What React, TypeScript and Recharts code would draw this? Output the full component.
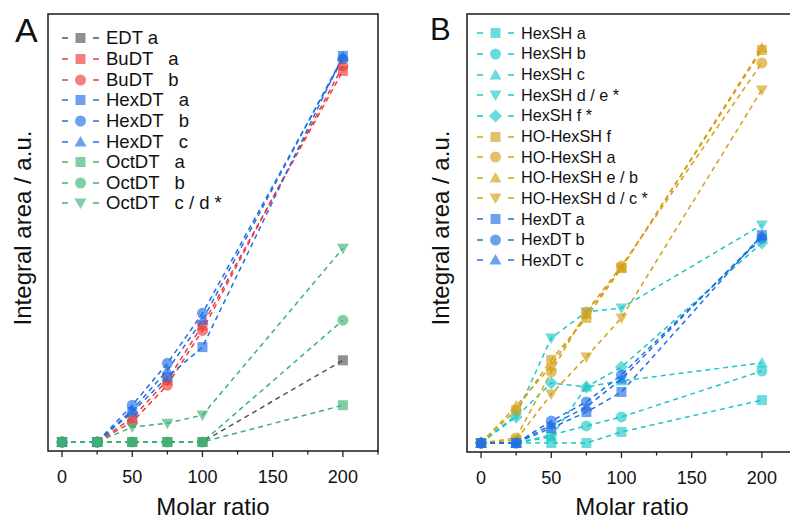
import React from "react";
import { LineChart, Line, XAxis, YAxis, ReferenceArea, Legend } from "recharts";

const FONT = '"Liberation Sans", Arial, sans-serif';

// x categories (molar ratio)
const molarRatio = [0, 25, 50, 75, 100, 200];
const xTicks = [0, 25, 50, 75, 100, 125, 150, 175, 200, 225];

// Panel A series
const edtA = [0, 0, 0, 0, 0, 27.3];
const budtA = [0, 0, 8, 20.7, 39, 124];
const budtB = [0, 0, 6.7, 19, 37.3, 125.7];
const hexdtA = [0, 0, 10, 21.7, 31.7, 129];
const hexdtB = [0, 0, 12.3, 26.3, 43, 128];
const hexdtC = [0, 0, 10.7, 24, 40.7, 128.7];
const octdtA = [0, 0, 0, 0, 0, 12.3];
const octdtB = [0, 0, 0, 0, 0, 40.7];
const octdtCD = [0, 0, 5, 6.3, 9, 64.7];

// Panel B series
const hexshA = [0, 0, 0, 0, 3.7, 14.3];
const hexshB = [0, 0, 2.7, 5.7, 8.7, 24];
const hexshC = [0, 0, 2, 18.7, 20.7, 26.7];
const hexshDE = [0, 9.3, 35, 43.7, 45, 72.7];
const hexshF = [0, 8.7, 20, 18.7, 25.3, 66.7];
const hoHexshF = [0, 11, 27.7, 41.7, 58.3, 131];
const hoHexshA = [0, 1.7, 23.7, 43.7, 59, 126.7];
const hoHexshEB = [0, 12.3, 25.7, 43, 58.3, 131.7];
const hoHexshDC = [0, 1, 16.3, 28.7, 41.7, 117.7];
const bHexdtA = [0, 0, 5, 10.3, 17, 69.3];
const bHexdtB = [0, 0, 7.3, 13.7, 22.7, 68.3];
const bHexdtC = [0, 0, 6, 12, 21.3, 69];

const GRAY = "#555555";
const RED = "#ee3b3b";
const BLUE = "#1f6fe5";
const GREEN = "#3cb371";
const CYAN = "#1cc7c7";
const GOLD = "#d4a017";

type Shape = "square" | "circle" | "triangle" | "triangleDown" | "diamond";
type Series = { key: string; name: string; color: string; shape: Shape; values: number[] };

const seriesA: Series[] = [
  { key: "edtA", name: "EDT a", color: GRAY, shape: "square", values: edtA },
  { key: "budtA", name: "BuDT   a", color: RED, shape: "square", values: budtA },
  { key: "budtB", name: "BuDT   b", color: RED, shape: "circle", values: budtB },
  { key: "hexdtA", name: "HexDT   a", color: BLUE, shape: "square", values: hexdtA },
  { key: "hexdtB", name: "HexDT   b", color: BLUE, shape: "circle", values: hexdtB },
  { key: "hexdtC", name: "HexDT   c", color: BLUE, shape: "triangle", values: hexdtC },
  { key: "octdtA", name: "OctDT   a", color: GREEN, shape: "square", values: octdtA },
  { key: "octdtB", name: "OctDT   b", color: GREEN, shape: "circle", values: octdtB },
  { key: "octdtCD", name: "OctDT   c / d *", color: GREEN, shape: "triangleDown", values: octdtCD },
];

const seriesB: Series[] = [
  { key: "hexshA", name: "HexSH a", color: CYAN, shape: "square", values: hexshA },
  { key: "hexshB", name: "HexSH b", color: CYAN, shape: "circle", values: hexshB },
  { key: "hexshC", name: "HexSH c", color: CYAN, shape: "triangle", values: hexshC },
  { key: "hexshDE", name: "HexSH d / e *", color: CYAN, shape: "triangleDown", values: hexshDE },
  { key: "hexshF", name: "HexSH f *", color: CYAN, shape: "diamond", values: hexshF },
  { key: "hoHexshF", name: "HO-HexSH f", color: GOLD, shape: "square", values: hoHexshF },
  { key: "hoHexshA", name: "HO-HexSH a", color: GOLD, shape: "circle", values: hoHexshA },
  { key: "hoHexshEB", name: "HO-HexSH e / b", color: GOLD, shape: "triangle", values: hoHexshEB },
  { key: "hoHexshDC", name: "HO-HexSH d / c *", color: GOLD, shape: "triangleDown", values: hoHexshDC },
  { key: "bHexdtA", name: "HexDT a", color: BLUE, shape: "square", values: bHexdtA },
  { key: "bHexdtB", name: "HexDT b", color: BLUE, shape: "circle", values: bHexdtB },
  { key: "bHexdtC", name: "HexDT c", color: BLUE, shape: "triangle", values: bHexdtC },
];

const buildRows = (series: Series[]) =>
  molarRatio.map((x, i) => {
    const row: any = { x };
    series.forEach((s) => (row[s.key] = s.values[i]));
    return row;
  });

const dataA = buildRows(seriesA);
const dataB = buildRows(seriesB);

function Marker({ cx, cy, shape, color }: { cx: number; cy: number; shape: Shape; color: string }) {
  const op = 0.65;
  if (shape === "square") return <rect x={cx - 5} y={cy - 5} width={10} height={10} fill={color} fillOpacity={op} />;
  if (shape === "circle") return <circle cx={cx} cy={cy} r={5.5} fill={color} fillOpacity={op} />;
  if (shape === "triangle")
    return <polygon points={`${cx - 6},${cy + 4.5} ${cx + 6},${cy + 4.5} ${cx},${cy - 6}`} fill={color} fillOpacity={op} />;
  if (shape === "triangleDown")
    return <polygon points={`${cx - 6},${cy - 4.5} ${cx + 6},${cy - 4.5} ${cx},${cy + 6}`} fill={color} fillOpacity={op} />;
  return <polygon points={`${cx},${cy - 6.5} ${cx + 6.5},${cy} ${cx},${cy + 6.5} ${cx - 6.5},${cy}`} fill={color} fillOpacity={op} />;
}

const AxisTick = (props: any) => {
  const { x, y, payload } = props;
  const v = payload.value;
  const major = v % 50 === 0;
  return (
    <g>
      <line x1={x} x2={x} y1={y} y2={y + (major ? 6 : 3.5)} stroke="#222" strokeWidth={1.3} />
      {major && (
        <text x={x} y={y + 32} textAnchor="middle" fontSize={18} fill="#111" fontFamily={FONT}>
          {v}
        </text>
      )}
    </g>
  );
};

const makeLegend = (series: Series[], fontSize: number) => () => (
  <div style={{ fontFamily: FONT, fontSize, color: "#111" }}>
    {series.map((s) => (
      <div key={s.key} style={{ display: "flex", alignItems: "center", height: 20.65 }}>
        <svg width={37} height={14} style={{ marginRight: 7, flexShrink: 0 }}>
          <line x1={0} x2={6} y1={7} y2={7} stroke={s.color} strokeWidth={1.5} />
          <line x1={31} x2={37} y1={7} y2={7} stroke={s.color} strokeWidth={1.5} />
          <Marker cx={18.5} cy={7} shape={s.shape} color={s.color} />
        </svg>
        <span style={{ whiteSpace: "pre" }}>{s.name}</span>
      </div>
    ))}
  </div>
);

function Panel({ data, series, width, margin, legendPos, legendFont }: any) {
  return (
    <LineChart width={width} height={519} data={data} margin={margin}>
      <XAxis
        dataKey="x"
        type="number"
        domain={[-10, 225]}
        ticks={xTicks}
        interval={0}
        height={30}
        tickSize={0}
        tickMargin={0}
        tickLine={false}
        axisLine={false}
        tick={<AxisTick />}
      />
      <YAxis hide type="number" domain={[-3, 143]} />
      <ReferenceArea x1={-10} x2={225} y1={-3} y2={143} fill="none" stroke="#1a1a1a" strokeWidth={1.5} ifOverflow="visible" />
      <Legend
        layout="vertical"
        align="center"
        verticalAlign="middle"
        content={makeLegend(series, legendFont)}
        wrapperStyle={{ left: legendPos.left, top: legendPos.top, width: 320 }}
      />
      {series.map((s: Series) => (
        <Line
          key={s.key}
          dataKey={s.key}
          name={s.name}
          type="linear"
          stroke={s.color}
          strokeWidth={1.5}
          strokeDasharray="5 4"
          isAnimationActive={false}
          activeDot={false}
          dot={(p: any) => <Marker key={`${s.key}-${p.index}`} cx={p.cx} cy={p.cy} shape={s.shape} color={s.color} />}
        />
      ))}
    </LineChart>
  );
}

export default function App() {
  return (
    <div style={{ position: "absolute", left: 0, top: 0, width: 790, height: 519, overflow: "hidden", background: "#fff", fontFamily: FONT }}>
      <div style={{ position: "absolute", left: 0, top: 0 }}>
        <Panel data={dataA} series={seriesA} width={400} margin={{ top: 14, left: 48, right: 22, bottom: 38 }} legendPos={{ left: 62, top: 28 }} legendFont={18.5} />
      </div>
      <div style={{ position: "absolute", left: 395, top: 0 }}>
        <Panel data={dataB} series={seriesB} width={420} margin={{ top: 14, left: 72, right: 18, bottom: 37 }} legendPos={{ left: 82, top: 23 }} legendFont={16.2} />
      </div>
      <svg width={790} height={519} style={{ position: "absolute", left: 0, top: 0, pointerEvents: "none" }} fontFamily={FONT} fill="#111">
        <text x={15} y={42} fontSize={34}>A</text>
        <text x={430} y={40} fontSize={31}>B</text>
        <text transform="translate(31,228) rotate(-90)" textAnchor="middle" fontSize={24}>Integral area / a.u.</text>
        <text transform="translate(449,228) rotate(-90)" textAnchor="middle" fontSize={24}>Integral area / a.u.</text>
        <text x={213} y={515} textAnchor="middle" fontSize={24}>Molar ratio</text>
        <text x={632} y={515} textAnchor="middle" fontSize={24}>Molar ratio</text>
      </svg>
    </div>
  );
}
